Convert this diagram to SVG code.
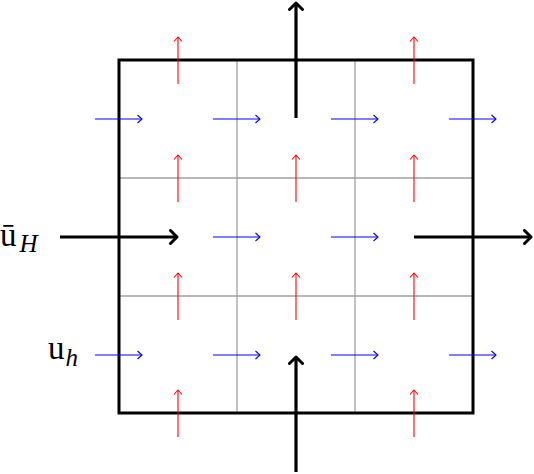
<svg xmlns="http://www.w3.org/2000/svg" width="534" height="474" viewBox="0 0 534 474">
<style>
.grid{stroke:#a0a0a0;stroke-width:1.3;fill:none}
.box{stroke:#000;stroke-width:3;fill:none}
.b{stroke:#0000ff;stroke-width:1.1;fill:none}
.r{stroke:#ff0000;stroke-width:1.1;fill:none}
.k{stroke:#000;stroke-width:3.2;fill:none}
.lbl{font-family:"Liberation Serif","DejaVu Serif",serif;font-size:33px;fill:#000}
.sub{font-family:"Liberation Serif","DejaVu Serif",serif;font-size:25px;font-style:italic;fill:#000}
</style>
<defs>
<marker id="mb" viewBox="-6 -5 8 10" markerWidth="8" markerHeight="10" refX="0" refY="0" orient="auto" markerUnits="userSpaceOnUse">
<path d="M-4.5,-4 L0,0 L-4.5,4" stroke="#0000ff" stroke-width="1.1" fill="none"/>
</marker>
<marker id="mr" viewBox="-6 -5 8 10" markerWidth="8" markerHeight="10" refX="0" refY="0" orient="auto" markerUnits="userSpaceOnUse">
<path d="M-4.5,-4 L0,0 L-4.5,4" stroke="#ff0000" stroke-width="1.1" fill="none"/>
</marker>
<marker id="mk" viewBox="-10 -8 13 16" markerWidth="13" markerHeight="16" refX="0" refY="0" orient="auto" markerUnits="userSpaceOnUse">
<path d="M-6.5,-6.5 L0,0 L-6.5,6.5" stroke="#000" stroke-width="3" fill="none" stroke-linecap="round" stroke-linejoin="round"/>
</marker>
</defs>
<g id="grid">
<line class="grid" x1="237" y1="60" x2="237" y2="413"/>
<line class="grid" x1="355" y1="60" x2="355" y2="413"/>
<line class="grid" x1="119" y1="178" x2="473" y2="178"/>
<line class="grid" x1="119" y1="296" x2="473" y2="296"/>
<rect class="box" x="119" y="60" width="354" height="353"/>
</g>
<g id="connectors">
<g id="blue">
<line class="b" x1="95" y1="119" x2="142" y2="119" marker-end="url(#mb)"/>
<line class="b" x1="213" y1="119" x2="260" y2="119" marker-end="url(#mb)"/>
<line class="b" x1="331" y1="119" x2="378" y2="119" marker-end="url(#mb)"/>
<line class="b" x1="449" y1="119" x2="496" y2="119" marker-end="url(#mb)"/>
<line class="b" x1="213" y1="237" x2="260" y2="237" marker-end="url(#mb)"/>
<line class="b" x1="331" y1="237" x2="378" y2="237" marker-end="url(#mb)"/>
<line class="b" x1="95" y1="355" x2="142" y2="355" marker-end="url(#mb)"/>
<line class="b" x1="213" y1="355" x2="260" y2="355" marker-end="url(#mb)"/>
<line class="b" x1="331" y1="355" x2="378" y2="355" marker-end="url(#mb)"/>
<line class="b" x1="449" y1="355" x2="496" y2="355" marker-end="url(#mb)"/>
</g>
<g id="red">
<line class="r" x1="178" y1="84" x2="178" y2="37" marker-end="url(#mr)"/>
<line class="r" x1="414" y1="84" x2="414" y2="37" marker-end="url(#mr)"/>
<line class="r" x1="178" y1="202" x2="178" y2="155" marker-end="url(#mr)"/>
<line class="r" x1="296" y1="202" x2="296" y2="155" marker-end="url(#mr)"/>
<line class="r" x1="414" y1="202" x2="414" y2="155" marker-end="url(#mr)"/>
<line class="r" x1="178" y1="320" x2="178" y2="273" marker-end="url(#mr)"/>
<line class="r" x1="296" y1="320" x2="296" y2="273" marker-end="url(#mr)"/>
<line class="r" x1="414" y1="320" x2="414" y2="273" marker-end="url(#mr)"/>
<line class="r" x1="178" y1="437" x2="178" y2="390" marker-end="url(#mr)"/>
<line class="r" x1="414" y1="437" x2="414" y2="390" marker-end="url(#mr)"/>
</g>
<g id="black">
<line class="k" x1="296" y1="118" x2="296" y2="3" marker-end="url(#mk)"/>
<line class="k" x1="296" y1="472" x2="296" y2="357" marker-end="url(#mk)"/>
<line class="k" x1="60" y1="237" x2="177" y2="237" marker-end="url(#mk)"/>
<line class="k" x1="414" y1="237" x2="531" y2="237" marker-end="url(#mk)"/>
</g>
</g>
<g id="labelH">
<text class="lbl" x="0" y="246">ū<tspan class="sub" dx="3" dy="6">H</tspan></text>
</g>
<g id="labelh">
<text class="lbl" x="48" y="359">u<tspan class="sub" dx="1" dy="7">h</tspan></text>
</g>
</svg>
